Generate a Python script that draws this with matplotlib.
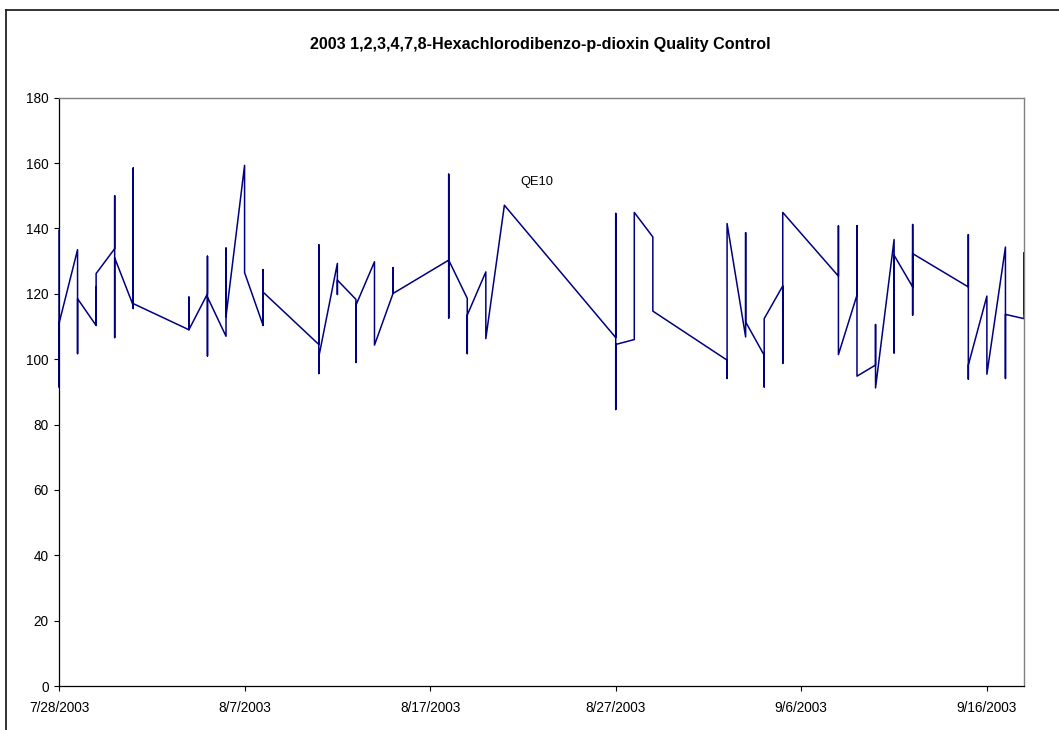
import datetime as dt
import matplotlib
matplotlib.use("Agg")
import matplotlib.pyplot as plt
import matplotlib.dates as mdates
from matplotlib.lines import Line2D
from matplotlib.ticker import FuncFormatter, MultipleLocator

plt.rcParams['font.family'] = ['Liberation Sans', 'DejaVu Sans']

title = "2003 1,2,3,4,7,8-Hexachlorodibenzo-p-dioxin Quality Control"

# sample dates and the QC values measured on each date (in run order)
sample_dates = ["2003-07-28", "2003-07-29", "2003-07-30", "2003-07-31", "2003-08-01",
                "2003-08-04", "2003-08-05", "2003-08-06", "2003-08-07", "2003-08-08",
                "2003-08-11", "2003-08-12", "2003-08-13", "2003-08-14", "2003-08-15",
                "2003-08-18", "2003-08-19", "2003-08-20", "2003-08-21", "2003-08-27",
                "2003-08-28", "2003-08-29", "2003-09-02", "2003-09-03", "2003-09-04",
                "2003-09-05", "2003-09-08", "2003-09-09", "2003-09-10", "2003-09-11",
                "2003-09-12", "2003-09-15", "2003-09-16", "2003-09-17", "2003-09-18"]
daily_values = [
    [139.4, 91.5, 110.9],
    [133.5, 101.7, 118.5],
    [110.3, 122.0, 110.5, 126.2],
    [133.8, 150.0, 106.6, 131.0],
    [116.4, 158.5, 115.5, 117.0],
    [109.0, 119.0, 109.0],
    [120.0, 131.5, 101.0, 119.0],
    [107.0, 134.0, 113.0],
    [159.3, 126.5],
    [110.3, 127.4, 110.5, 120.5],
    [104.5, 135.0, 95.6, 100.7],
    [129.3, 119.8, 124.2],
    [118.3, 99.0, 116.5],
    [129.8, 104.3],
    [120.1, 128.0, 120.1],
    [130.3, 156.6, 112.6, 130.3],
    [118.6, 101.7, 113.5],
    [126.7, 106.3],
    [147.1],
    [106.6, 144.6, 126.0, 84.6, 104.5],
    [106.0, 144.9],
    [137.4, 114.7],
    [99.7, 94.1, 141.5],
    [106.8, 138.7, 111.4],
    [101.2, 91.5, 112.4],
    [122.4, 98.7, 122.4, 144.9],
    [125.4, 140.8, 101.4],
    [119.6, 140.8, 94.8],
    [98.2, 110.6, 91.2],
    [136.6, 101.9, 131.8],
    [122.1, 141.2, 113.5, 132.3],
    [122.1, 138.1, 93.9, 98.2],
    [119.3, 95.4],
    [134.3, 94.1, 113.7],
    [112.4, 132.5, 114.0],
]
label_text = "QE10"
label_date = "2003-08-21"
label_value = 147.1

x_start = dt.datetime(2003, 7, 28)
x_end = dt.datetime(2003, 9, 18)

xs, ys = [], []
for d, vals in zip(sample_dates, daily_values):
    day = dt.datetime.strptime(d, "%Y-%m-%d")
    for v in vals:
        xs.append(day)
        ys.append(v)

fig = plt.figure(figsize=(10.59, 7.30), dpi=100)
ax = fig.add_axes([59 / 1059, 1 - 686 / 730, (1024 - 59) / 1059, (686 - 97.7) / 730])

ax.plot(xs, ys, color="#000080", lw=1.1, clip_on=False)

ax.annotate(label_text, xy=(dt.datetime.strptime(label_date, "%Y-%m-%d"), label_value),
            xytext=(11.5, 16.5), textcoords="offset points",
            ha="left", va="center", fontsize=9.3)

ax.set_xlim(x_start, x_end)
ax.set_ylim(0, 180)
ax.yaxis.set_major_locator(MultipleLocator(20))
ticks = [x_start + dt.timedelta(days=10 * i) for i in range(6)]
ax.set_xticks(ticks)


def date_label(v, pos):
    d = mdates.num2date(v)
    return "{}/{}/{}".format(d.month, d.day, d.year)


ax.xaxis.set_major_formatter(FuncFormatter(date_label))

ax.tick_params(direction="out", length=3.5, width=0.8, labelsize=9.8, colors="black")
ax.tick_params(axis="y", pad=4)
ax.tick_params(axis="x", pad=7)

for s in ["left", "bottom"]:
    ax.spines[s].set_color("black")
    ax.spines[s].set_linewidth(0.9)
for s in ["top", "right"]:
    ax.spines[s].set_color("#808080")
    ax.spines[s].set_linewidth(1.0)

fig.text(540 / 1059, 1 - 44 / 730, title, ha="center", va="center",
         fontsize=11.6, fontweight="bold")

# chart area border (only left and top edges fall inside the image)
bx = 5.7 / 1059
by = 1 - 10 / 730
fig.add_artist(Line2D([bx, bx], [0, by], color="#222222", lw=1.3))
fig.add_artist(Line2D([bx, 1], [by, by], color="#222222", lw=1.3))

fig.savefig("out.png", dpi=100)
